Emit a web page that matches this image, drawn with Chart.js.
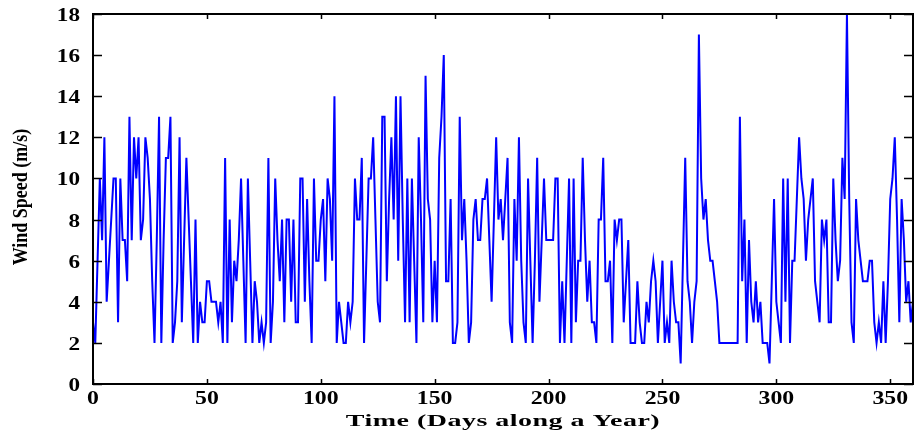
<!DOCTYPE html>
<html>
<head>
<meta charset="utf-8">
<script src="https://cdn.jsdelivr.net/npm/chart.js@4/dist/chart.umd.min.js"></script>
<style>
  html, body { margin: 0; padding: 0; background: #fff; }
  #wrap { width: 915px; height: 434px; position: relative; }
</style>
</head>
<body>
<div id="wrap"><canvas id="wind"></canvas></div>
<script>
// daily wind speed (m/s), day 0 .. 360
const speeds = [
  3, 2, 6, 10, 7, 12, 4, 6, 8, 10, 10, 3, 10, 7, 7, 5, 13, 7, 12, 10,
  12, 7, 8, 12, 11, 9, 5, 2, 7, 13, 2, 7, 11, 11, 13, 2, 3, 5, 12, 3,
  7, 11, 8, 5, 2, 8, 2, 4, 3, 3, 5, 5, 4, 4, 4, 3, 4, 2, 11, 2,
  8, 3, 6, 5, 7, 10, 6, 2, 10, 6, 2, 5, 4, 2, 3, 2, 3, 11, 2, 4,
  10, 7, 5, 8, 3, 8, 8, 4, 8, 3, 3, 10, 10, 4, 9, 5, 2, 10, 6, 6,
  8, 9, 5, 10, 9, 6, 14, 2, 4, 3, 2, 2, 4, 3, 4, 10, 8, 8, 11, 2,
  6, 10, 10, 12, 8, 4, 3, 13, 13, 5, 9, 12, 8, 14, 6, 14, 8, 3, 10, 3,
  10, 6, 2, 12, 8, 3, 15, 9, 8, 3, 6, 3, 11, 13, 16, 5, 5, 9, 2, 2,
  3, 13, 7, 9, 6, 2, 3, 8, 9, 7, 7, 9, 9, 10, 7, 4, 8, 12, 8, 9,
  7, 9, 11, 3, 2, 9, 6, 12, 6, 3, 2, 10, 6, 2, 6, 11, 4, 7, 10, 7,
  7, 7, 7, 10, 10, 2, 5, 2, 6, 10, 2, 10, 3, 6, 6, 11, 7, 4, 6, 3,
  3, 2, 8, 8, 11, 5, 5, 6, 2, 8, 7, 8, 8, 3, 5, 7, 2, 2, 2, 5,
  3, 2, 2, 4, 3, 5, 6, 5, 2, 4, 6, 2, 3, 2, 6, 4, 3, 3, 1, 6,
  11, 5, 4, 2, 4, 5, 17, 10, 8, 9, 7, 6, 6, 5, 4, 2, 2, 2, 2, 2,
  2, 2, 2, 2, 13, 5, 8, 2, 7, 4, 3, 5, 3, 4, 2, 2, 2, 1, 5, 9,
  4, 3, 2, 10, 4, 10, 2, 6, 6, 9, 12, 10, 9, 6, 8, 9, 10, 5, 4, 3,
  8, 7, 8, 3, 3, 10, 7, 5, 6, 11, 9, 18, 9, 3, 2, 9, 7, 6, 5, 5,
  5, 6, 6, 3, 2, 3, 2, 5, 2, 5, 9, 10, 12, 8, 3, 9, 7, 4, 5, 3,
  4
];
const days = speeds.map((v, i) => i);

const xTicks = [0, 50, 100, 150, 200, 250, 300, 350];
const yTicks = [0, 2, 4, 6, 8, 10, 12, 14, 16, 18];
const xTitle = "Time (Days along a Year)";
const yTitle = "Wind Speed (m/s)";

const serif = "'Liberation Serif', 'Times New Roman', serif";

// the figure was stretched sideways, so text is drawn wider than normal
function wideText(ctx, txt, x, y, sx) {
  ctx.save();
  ctx.translate(x, y);
  ctx.scale(sx, 1);
  ctx.fillText(txt, 0, 0);
  ctx.restore();
}

// MATLAB-style box with inward ticks, tick labels and axis titles
const boxPlugin = {
  id: "box",
  afterDatasetsDraw(chart) {
    const { ctx, chartArea: a, scales: { x, y } } = chart;
    ctx.save();
    ctx.strokeStyle = "#000";
    ctx.lineWidth = 2;
    ctx.strokeRect(a.left, a.top, a.right - a.left, a.bottom - a.top);
    ctx.lineWidth = 1.5;
    ctx.beginPath();
    x.ticks.forEach(t => {
      const px = Math.round(x.getPixelForValue(t.value)) + 0.5;
      ctx.moveTo(px, a.bottom); ctx.lineTo(px, a.bottom - 5);
      ctx.moveTo(px, a.top);    ctx.lineTo(px, a.top + 5);
    });
    y.ticks.forEach(t => {
      const py = Math.round(y.getPixelForValue(t.value)) + 0.5;
      ctx.moveTo(a.left, py);  ctx.lineTo(a.left + 9, py);
      ctx.moveTo(a.right, py); ctx.lineTo(a.right - 9, py);
    });
    ctx.stroke();

    ctx.fillStyle = "#000";
    ctx.font = "bold 19px " + serif;
    ctx.textBaseline = "alphabetic";
    ctx.textAlign = "center";
    x.ticks.forEach(t => wideText(ctx, String(t.value), x.getPixelForValue(t.value), 404, 1.25));
    ctx.textAlign = "right";
    y.ticks.forEach(t => wideText(ctx, String(t.value), 80, y.getPixelForValue(t.value) + 7, 1.22));

    ctx.textAlign = "center";
    ctx.textBaseline = "middle";
    ctx.font = "bold 17.5px " + serif;
    ctx.save();
    ctx.translate((a.left + a.right) / 2, 421);
    ctx.scale(1.6, 1);
    ctx.letterSpacing = "0.3px";
    ctx.fillText(xTitle, 0, 0);
    ctx.restore();

    ctx.save();
    ctx.font = "bold 18px " + serif;
    ctx.translate(22, 197);
    ctx.rotate(-Math.PI / 2);
    ctx.scale(1, 1.15);
    ctx.fillText(yTitle, 0, 0);
    ctx.restore();
    ctx.restore();
  }
};

new Chart(document.getElementById("wind"), {
  type: "line",
  data: {
    datasets: [{
      data: days.map((d, i) => ({ x: d, y: speeds[i] })),
      borderColor: "#0000ff",
      borderWidth: 2,
      pointRadius: 0,
      tension: 0,
      fill: false
    }]
  },
  options: {
    responsive: true, maintainAspectRatio: false,
    animation: false,
    layout: { padding: { left: 0, right: 2, top: 14, bottom: 0 } },
    plugins: { legend: { display: false }, tooltip: { enabled: false } },
    scales: {
      x: {
        type: "linear", min: 0, max: 360,
        grid: { display: false, drawTicks: false },
        border: { display: false },
        afterFit: s => { s.height = 50; },
        afterBuildTicks: s => { s.ticks = xTicks.map(v => ({ value: v })); },
        ticks: { display: false }
      },
      y: {
        min: 0, max: 18,
        grid: { display: false, drawTicks: false },
        border: { display: false },
        afterFit: s => { s.width = 93; },
        afterBuildTicks: s => { s.ticks = yTicks.map(v => ({ value: v })); },
        ticks: { display: false }
      }
    }
  },
  plugins: [boxPlugin]
});
</script>
</body>
</html>
